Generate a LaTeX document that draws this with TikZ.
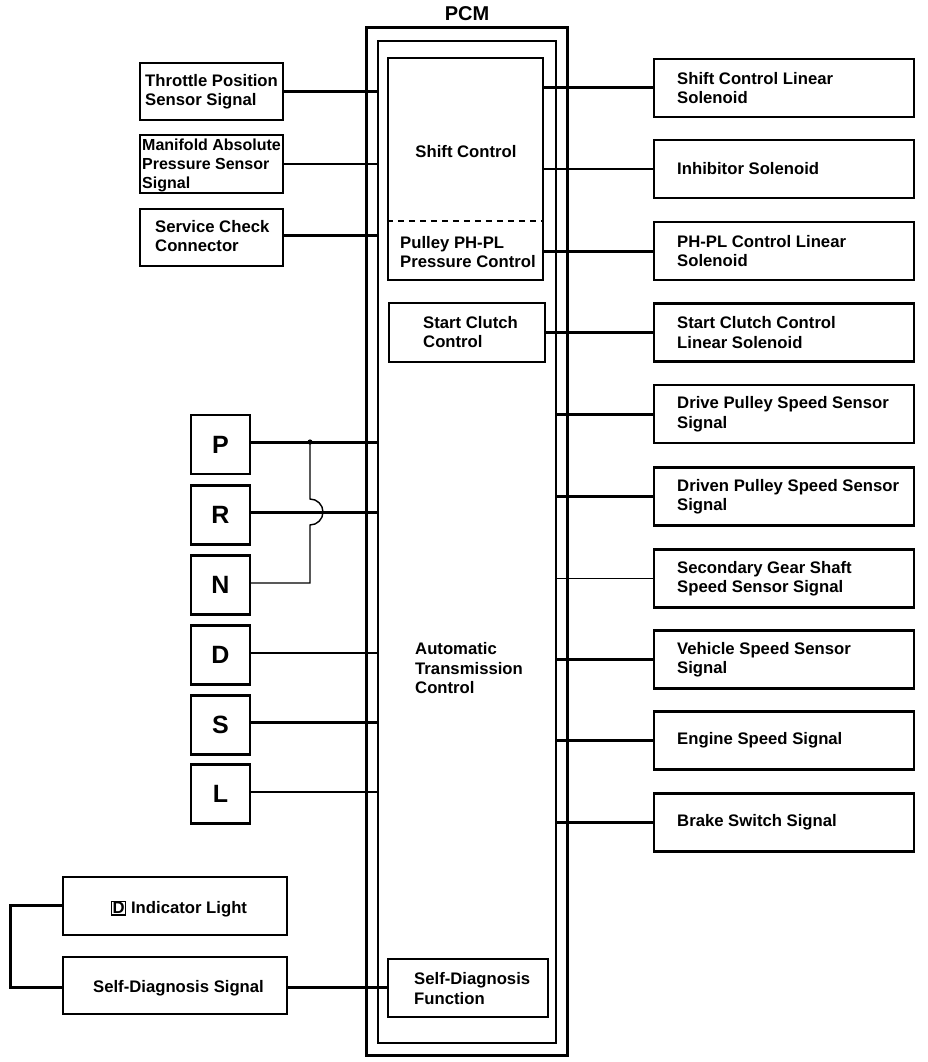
\documentclass[tikz,border=0pt]{standalone}
\usepackage{fontspec}
\setmainfont{Liberation Sans}
\begin{document}
\begin{tikzpicture}[x=1pt,y=-1pt,
  bx/.style={draw, line width=2.4pt, inner sep=0pt},
  txt/.style={inner sep=0pt, align=left, font=\fontsize{16.7}{19.5}\selectfont\bfseries},
  ctxt/.style={inner sep=0pt, align=center, font=\fontsize{16.7}{19.5}\selectfont\bfseries},
  big/.style={inner sep=0pt, font=\fontsize{25}{28}\selectfont\bfseries},
  thk/.style={line width=3pt},
  thn/.style={line width=1.4pt},
  med/.style={line width=2.2pt}]
\useasboundingbox (0,0) rectangle (928,1062);
% PCM
\node[font=\fontsize{20}{22}\selectfont\bfseries, inner sep=0pt] (pcmlabel) at (467,14) {PCM};
\node[draw, line width=3pt, minimum width=201pt, minimum height=1027pt, inner sep=0pt] (pcmout) at (466.5,541.5) {};
\node[draw, line width=2pt, minimum width=178pt, minimum height=1002pt, inner sep=0pt] (pcmin) at (467,542) {};
\node[bx, minimum width=155pt, minimum height=222pt] (shift) at (465.5,169) {};
\draw[line width=1.3pt, dash pattern=on 6pt off 5pt] (shift.west |- 0,221) -- (shift.east |- 0,221);
\node[ctxt] at (466,152) {Shift Control};
\node[txt, anchor=west] at (400,252) {Pulley PH-PL\\Pressure Control};
\node[bx, minimum width=156pt, minimum height=59pt] (start) at (467,332.5) {};
\node[txt, anchor=west] at (423,332) {Start Clutch\\Control};
\node[txt, anchor=west] at (415,668.5) {Automatic\\Transmission\\Control};
\node[bx, minimum width=160pt, minimum height=58pt] (sdf) at (468,988) {};
\node[txt, anchor=west] at (414,988.5) {Self-Diagnosis\\Function};
% left inputs
\node[bx, minimum width=143pt, minimum height=57pt] (tps) at (211.5,91.5) {};
\node[txt, anchor=west] at (145,91.5) {Throttle Position\\Sensor Signal};
\node[bx, minimum width=143pt, minimum height=58pt] (map) at (211.5,164) {};
\node[txt, anchor=west, font=\fontsize{16}{19}\selectfont\bfseries] at (142,165) {Manifold Absolute\\Pressure Sensor\\Signal};
\node[bx, minimum width=143pt, minimum height=57pt] (scc) at (211.5,237.5) {};
\node[txt, anchor=west] at (155,236) {Service Check\\Connector};
\draw[med] (tps.east) -- (tps.east -| pcmin.west);
\draw[thn] (map.east) -- (map.east -| pcmin.west);
\draw[thk] (scc.east |- 0,235) -- (pcmin.west |- 0,235);
% PRNDSL
\foreach \n/\y in {P/444.5,R/515,N/585,D/655,S/725,L/794}{
  \node[bx, minimum width=59pt, minimum height=59pt] (\n) at (220.5,\y) {};
  \node[big] at (220.5,\y) {\n};
}
\coordinate (nj) at (310,442);
\draw[thk] (P.east |- 0,442) -- (pcmin.west |- 0,442);
\draw[thk] (R.east |- 0,512) -- (pcmin.west |- 0,512);
\draw[thn] (N.east |- 0,583) -- (310,583) -- (310,525) arc[start angle=90, end angle=-90, radius=13] -- (nj);
\fill (nj) circle[radius=2.6];
\draw[thn] (D.east |- 0,653) -- (pcmin.west |- 0,653);
\draw[thk] (S.east |- 0,722) -- (pcmin.west |- 0,722);
\draw[med] (L.east |- 0,792) -- (pcmin.west |- 0,792);
% bottom left
\node[bx, minimum width=224pt, minimum height=58pt] (ind) at (175,906) {};
\node[ctxt] at (179,909) {{\setlength\fboxsep{0.6pt}\setlength\fboxrule{1.1pt}\fbox{D}} Indicator Light};
\node[bx, minimum width=224pt, minimum height=57pt] (sds) at (175,985.5) {};
\node[ctxt] at (178.5,988) {Self-Diagnosis Signal};
\coordinate (lc) at (10,905);
\draw[thk] (ind.west |- 0,905) -- (lc) |- (sds.west |- 0,987);
\draw[thk] (sds.east |- 0,987) -- (sdf.west |- 0,987);
% right outputs
\foreach \id/\y/\t in {scls/88/{Shift Control Linear\\Solenoid},inh/169/{Inhibitor Solenoid},phpl/251/{PH-PL Control Linear\\Solenoid},sccls/332.5/{Start Clutch Control\\Linear Solenoid},drv/414/{Drive Pulley Speed Sensor\\Signal},drn/496.5/{Driven Pulley Speed Sensor\\Signal},sec/578.5/{Secondary Gear Shaft\\Speed Sensor Signal},veh/659.5/{Vehicle Speed Sensor\\Signal},eng/740.5/{Engine Speed Signal},brk/822.5/{Brake Switch Signal}}{
  \node[bx, minimum width=260pt, minimum height=58pt] (\id) at (784,\y) {};
  \node[txt, anchor=west] at (677,\y) {\t};
}
\draw[thk] (shift.east |- scls.west) -- (scls.west);
\draw[thn] (shift.east |- inh.west) -- (inh.west);
\draw[thk] (shift.east |- phpl.west) -- (phpl.west);
\draw[thk] (start.east |- sccls.west) -- (sccls.west);
\draw[thk] (pcmin.east |- drv.west) -- (drv.west);
\draw[thk] (pcmin.east |- drn.west) -- (drn.west);
\draw[thn] (pcmin.east |- sec.west) -- (sec.west);
\draw[thk] (pcmin.east |- veh.west) -- (veh.west);
\draw[thk] (pcmin.east |- eng.west) -- (eng.west);
\draw[thk] (pcmin.east |- brk.west) -- (brk.west);
\end{tikzpicture}
\end{document}
